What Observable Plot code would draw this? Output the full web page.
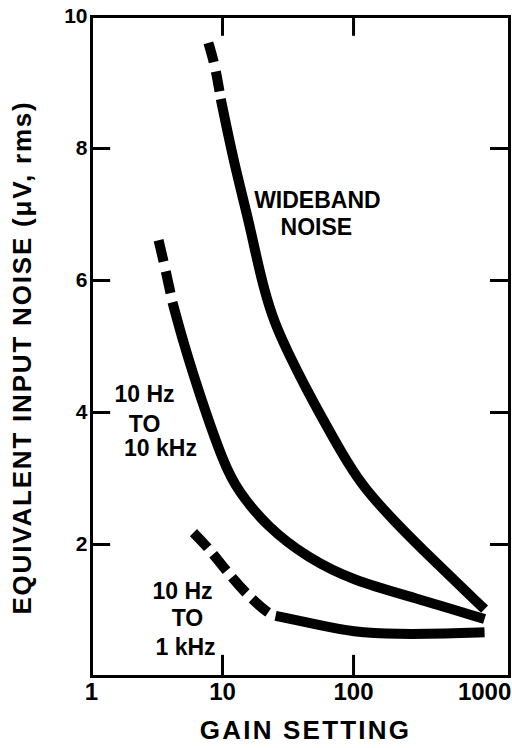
<!DOCTYPE html>
<html><head><meta charset="utf-8">
<script src="https://cdn.jsdelivr.net/npm/d3@7"></script>
<script src="https://cdn.jsdelivr.net/npm/@observablehq/plot@0.6"></script>
<style>body{margin:0;background:#fff}</style>
</head><body><div id="chart"></div>
<script>
// Tick values / labels
const xTickLabels = [1, 10, 100, 1000];
const yTickLabels = [2, 4, 6, 8, 10];
const innerTicksX = [10, 100];
const innerTicksY = [2, 4, 6, 8];

// Series: [gain, noise µV rms]
const widebandDashed = [[7.8, 9.6], [8.8, 9.25], [9.7, 8.75]];
const widebandSolid = [[9.7, 8.75], [12.1, 7.82], [15.8, 6.91], [17.9, 6.41], [20.6, 5.89], [24.5, 5.39], [31.9, 4.89], [43, 4.38], [59, 3.88], [79.6, 3.42], [113, 2.92], [202, 2.36], [408, 1.76], [1000, 1.02]];
const tenKDashed = [[3.25, 6.61], [3.61, 6.23], [4.15, 5.67]];
const tenKSolid = [[4.15, 5.67], [5.04, 5.05], [6.79, 4.23], [10.2, 3.23], [13, 2.82], [22.1, 2.26], [44.5, 1.8], [100, 1.45], [287, 1.2], [1000, 0.87]];
const oneKDashed = [[6.0, 2.18], [7.8, 1.95], [10.9, 1.58], [15, 1.26], [22.4, 0.95], [25.4, 0.92]];
const oneKSolid = [[25.4, 0.92], [49.5, 0.8], [100, 0.67], [217, 0.64], [522, 0.65], [1000, 0.67]];

// Curve annotations
const labelTexts = ["WIDEBAND", "NOISE", "10 Hz", "TO", "10 kHz", "10 Hz", "TO", "1 kHz"];
const labelGain = [53, 52, 2.54, 2.54, 3.36, 4.95, 5.4, 5.22];
const labelNoise = [7.21, 6.8, 4.27, 3.82, 3.45, 1.29, 0.88, 0.44];

const xTitle = "GAIN SETTING";
const yTitle = "EQUIVALENT INPUT NOISE (μV, rms)";

const rows = pairs => pairs.map(([gain, noise]) => ({gain, noise}));
const labels = labelTexts.map((text, i) => ({text, gain: labelGain[i], noise: labelNoise[i]}));
const FONT = "'Liberation Sans', Arial, Helvetica, sans-serif";

const lineOpts = {x: "gain", y: "noise", curve: "basis", stroke: "black", strokeWidth: 10, strokeLinecap: "butt", strokeLinejoin: "round"};

const chart = Plot.plot({
  width: 512, height: 748,
  marginLeft: 91, marginRight: 3, marginTop: 16, marginBottom: 72,
  x: {type: "log", domain: [1, 1550], axis: null},
  y: {domain: [0, 10], axis: null},
  style: {fontFamily: FONT, background: "white", color: "black"},
  marks: [
    Plot.frame({stroke: "black", strokeWidth: 3}),
    Plot.ruleX(innerTicksX, {x: d => d, y1: 0, y2: 0.32, strokeWidth: 3}),
    Plot.ruleX(innerTicksX, {x: d => d, y1: 9.7, y2: 10, strokeWidth: 3}),
    Plot.ruleY(innerTicksY, {y: d => d, x1: 1, x2: 1.4, strokeWidth: 3}),
    Plot.ruleY(innerTicksY, {y: d => d, x1: 1110, x2: 1550, strokeWidth: 3}),
    Plot.line(rows(widebandDashed), {...lineOpts, strokeDasharray: "20,9.5"}),
    Plot.line(rows(widebandSolid), lineOpts),
    Plot.line(rows(tenKDashed), {...lineOpts, strokeDasharray: "22,10"}),
    Plot.line(rows(tenKSolid), lineOpts),
    Plot.line(rows(oneKDashed), {...lineOpts, strokeDasharray: "21,8.5"}),
    Plot.line(rows(oneKSolid), lineOpts),
    Plot.text(labels, {x: "gain", y: "noise", text: "text", fontSize: 23, fontWeight: "bold", fill: "black"}),
    Plot.text(xTickLabels, {x: d => d, y: 0, dy: 16, text: d => String(d), fontSize: 24, fontWeight: "bold", fill: "black"}),
    Plot.text(yTickLabels, {x: 1, y: d => d, dx: -4, textAnchor: "end", text: d => String(d), fontSize: 21, fontWeight: "bold", fill: "black"}),
    Plot.text([xTitle], {frameAnchor: "bottom", textAnchor: "middle", lineAnchor: "middle", dx: 5, dy: 54, text: d => d, fontSize: 26, fontWeight: "bold", fill: "black"}),
    Plot.text([yTitle], {frameAnchor: "left", textAnchor: "middle", lineAnchor: "middle", dx: -69, dy: 11, rotate: -90, text: d => d, fontSize: 26, fontWeight: "bold", fill: "black"})
  ]
});
d3.select(chart).selectAll("text").filter(function() { return this.textContent === xTitle; }).attr("letter-spacing", 2.2);
d3.select(chart).selectAll("text").filter(function() { return this.textContent === yTitle; }).attr("letter-spacing", 1.8);
document.getElementById("chart").appendChild(chart);
</script>
</body></html>
